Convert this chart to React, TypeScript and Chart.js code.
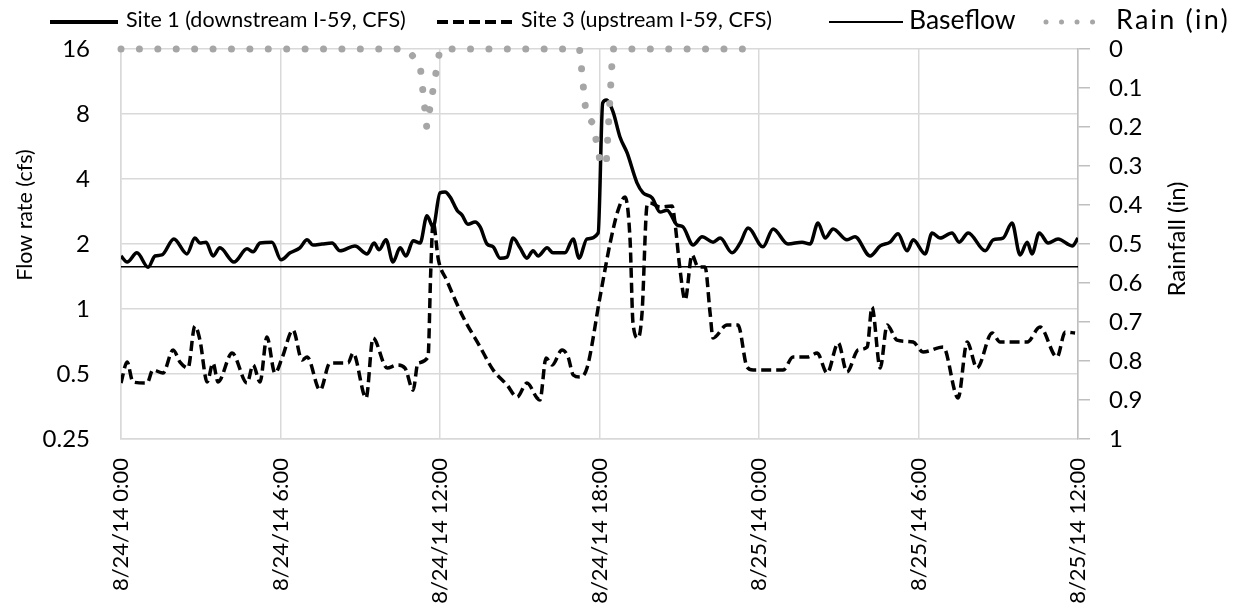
import React, { useEffect, useRef } from 'react';
import { Chart, registerables } from 'chart.js';

Chart.register(...registerables);

// ---------- data ----------
const X_TICK_LABELS = [
  '8/24/14 0:00',
  '8/24/14 6:00',
  '8/24/14 12:00',
  '8/24/14 18:00',
  '8/25/14 0:00',
  '8/25/14 6:00',
  '8/25/14 12:00',
];

const FLOW_TICKS = [0.25, 0.5, 1, 2, 4, 8, 16];
const FLOW_TICK_LABELS = ['0.25', '0.5', '1', '2', '4', '8', '16'];
const RAIN_TICK_LABELS = ['0', '0.1', '0.2', '0.3', '0.4', '0.5', '0.6', '0.7', '0.8', '0.9', '1'];

// hours since 8/24/14 0:00
const SITE1_TIME = [
  0.0, 0.23, 0.6, 1.02, 1.28, 1.54, 1.99, 2.48, 2.78, 2.97,
  3.2, 3.46, 3.72, 4.25, 4.74, 4.97, 5.23, 5.68, 6.02, 6.36,
  6.73, 7.0, 7.22, 7.56, 7.94, 8.24, 8.8, 9.26, 9.52, 9.71,
  9.97, 10.23, 10.5, 10.72, 10.99, 11.25, 11.51, 11.74, 12.0, 12.19,
  12.38, 12.64, 12.83, 13.05, 13.32, 13.51, 13.77, 14.0, 14.26, 14.52,
  14.75, 15.01, 15.27, 15.5, 15.69, 16.03, 16.25, 16.7, 17.01, 17.23,
  17.53, 17.95, 18.12, 18.26, 18.51, 18.77, 19.04, 19.41, 19.64, 19.98,
  20.28, 20.54, 20.92, 21.14, 21.52, 21.86, 22.27, 22.54, 22.99, 23.29,
  23.59, 24.15, 24.53, 25.09, 25.62, 25.92, 26.22, 26.49, 26.79, 27.31,
  27.61, 28.18, 28.56, 28.93, 29.23, 29.57, 29.8, 30.25, 30.51, 30.81,
  31.26, 31.53, 31.87, 32.51, 32.81, 33.18, 33.52, 33.82, 34.09, 34.27,
  34.54, 34.88, 35.25, 35.78, 36.0,
];
const SITE1_FLOW = [
  1.76, 1.65, 1.82, 1.56, 1.76, 1.78, 2.11, 1.8, 2.13, 2.02,
  2.04, 1.76, 1.92, 1.65, 1.9, 1.84, 2.02, 2.04, 1.69, 1.82,
  1.92, 2.09, 1.98, 2.0, 2.02, 1.86, 1.96, 1.8, 2.02, 1.88,
  2.09, 1.65, 1.92, 1.76, 2.07, 2.02, 2.7, 2.4, 3.45, 3.48,
  3.3, 2.87, 2.72, 2.47, 2.53, 2.4, 2.0, 1.94, 1.72, 1.74,
  2.13, 1.92, 1.72, 1.86, 1.76, 1.92, 1.82, 1.82, 2.11, 1.72,
  2.11, 2.25, 9.0, 9.28, 8.18, 6.26, 5.28, 3.84, 3.45, 3.27,
  2.81, 2.87, 2.45, 2.4, 1.98, 2.16, 2.04, 2.13, 1.82, 2.02,
  2.37, 1.94, 2.35, 2.0, 2.04, 2.0, 2.5, 2.13, 2.35, 2.09,
  2.16, 1.76, 1.96, 2.04, 2.23, 1.86, 2.09, 1.8, 2.25, 2.13,
  2.25, 2.04, 2.25, 1.86, 2.09, 2.13, 2.5, 1.78, 2.04, 1.8,
  2.25, 2.02, 2.11, 1.96, 2.13,
];

const SITE3_TIME = [
  0.0, 0.23, 0.45, 0.98, 1.2, 1.58, 1.96, 2.22, 2.52, 2.78,
  2.97, 3.24, 3.46, 3.65, 4.18, 4.74, 4.97, 5.23, 5.49, 5.79,
  6.06, 6.47, 6.81, 7.0, 7.49, 7.86, 8.54, 8.73, 9.22, 9.48,
  10.01, 10.38, 10.68, 10.99, 11.17, 11.55, 11.65, 11.74, 11.94, 12.25,
  12.87, 13.51, 14.0, 14.52, 14.9, 15.27, 15.65, 15.76, 15.99, 16.22,
  16.59, 16.82, 17.01, 17.27, 17.53, 18.02, 18.4, 18.7, 18.96, 19.15,
  19.26, 19.45, 19.6, 19.79, 19.9, 20.28, 20.73, 20.84, 21.03, 21.22,
  21.48, 21.71, 21.97, 22.16, 22.27, 22.8, 23.21, 23.55, 23.78, 24.91,
  25.28, 25.81, 26.19, 26.56, 26.98, 27.31, 27.73, 28.07, 28.25, 28.56,
  28.82, 29.19, 29.8, 30.17, 30.93, 31.49, 31.83, 32.2, 32.77, 33.07,
  34.09, 34.57, 35.21, 35.52, 35.89,
];
const SITE3_FLOW = [
  0.454, 0.568, 0.459, 0.454, 0.522, 0.505, 0.646, 0.568, 0.533, 0.834,
  0.718, 0.459, 0.562, 0.459, 0.625, 0.454, 0.55, 0.459, 0.742, 0.505,
  0.593, 0.799, 0.58, 0.599, 0.421, 0.562, 0.562, 0.625, 0.387, 0.734,
  0.533, 0.55, 0.533, 0.421, 0.562, 0.599, 1.47, 2.53, 1.69, 1.36,
  0.918, 0.667, 0.522, 0.445, 0.391, 0.454, 0.387, 0.379, 0.593, 0.55,
  0.646, 0.599, 0.495, 0.484, 0.533, 1.137, 2.02, 2.87, 3.3, 2.09,
  0.861, 0.734, 0.958, 3.03, 3.1, 2.97, 3.0, 2.5, 1.52, 1.1,
  1.78, 1.565, 1.565, 0.958, 0.734, 0.843, 0.843, 0.539, 0.522, 0.522,
  0.599, 0.599, 0.625, 0.505, 0.696, 0.511, 0.646, 0.667, 1.02, 0.533,
  0.843, 0.718, 0.703, 0.632, 0.667, 0.387, 0.703, 0.533, 0.774, 0.703,
  0.703, 0.825, 0.599, 0.782, 0.774,
];

const BASEFLOW_TIME = [0, 36];
const BASEFLOW_FLOW = [1.57, 1.57];

const RAIN_TIME = [0, 10.75, 11, 11.25, 11.5, 11.75, 12, 17.25, 17.5, 17.75, 18, 18.25, 18.5, 24];
const RAIN_IN = [0, 0, 0.02, 0.04, 0.2, 0.1, 0, 0, 0.17, 0.19, 0.28, 0.3, 0, 0];

// ---------- styling ----------
const FONT = 'Lato, "Noto Sans", sans-serif';
const GRID = '#d9d9d9';
const RAIN_COLOR = '#a6a6a6';

const pts = (xs: number[], ys: number[]) => xs.map((x, i) => ({ x, y: ys[i] }));

const decorPlugin = {
  id: 'decor',
  afterDraw(chart: any) {
    const ctx: any = chart.ctx;
    const ds = chart.data.datasets;
    ctx.save();
    const ly = 20;
    const items = [
      { x0: 50, x1: 118, tx: 126, text: ds[0].label, size: 21.5, ls: 0, lw: 4, dash: [] as number[], color: '#000', cap: 'butt' },
      { x0: 437, x1: 514, tx: 521, text: ds[1].label, size: 21.5, ls: 0, lw: 4, dash: [11, 5], color: '#000', cap: 'butt' },
      { x0: 829, x1: 903, tx: 909, text: ds[2].label, size: 26.5, ls: 0, lw: 2, dash: [] as number[], color: '#000', cap: 'butt' },
      { x0: 1046, x1: 1108, tx: 1116, text: ds[3].label, size: 27, ls: 2.2, lw: 5, dash: [0.01, 15.5], color: RAIN_COLOR, cap: 'round' },
    ];
    for (const it of items) {
      ctx.beginPath();
      ctx.setLineDash(it.dash);
      ctx.lineCap = it.cap;
      ctx.lineWidth = it.lw;
      ctx.strokeStyle = it.color;
      ctx.moveTo(it.x0, ly + 2);
      ctx.lineTo(it.x1, ly + 2);
      ctx.stroke();
      ctx.setLineDash([]);
      ctx.fillStyle = '#000';
      ctx.font = `${it.size}px ${FONT}`;
      ctx.letterSpacing = `${it.ls}px`;
      ctx.textAlign = 'left';
      ctx.textBaseline = 'middle';
      ctx.fillText(it.text, it.tx, ly);
    }
    ctx.letterSpacing = '0px';
    // axis titles
    ctx.fillStyle = '#000';
    ctx.textAlign = 'center';
    ctx.textBaseline = 'middle';
    ctx.save();
    ctx.translate(25, 215);
    ctx.rotate(-Math.PI / 2);
    ctx.font = `21.5px ${FONT}`;
    ctx.fillText('Flow rate (cfs)', 0, 0);
    ctx.restore();
    ctx.save();
    ctx.translate(1177, 239);
    ctx.rotate(-Math.PI / 2);
    ctx.font = `24px ${FONT}`;
    ctx.fillText('Rainfall (in)', 0, 0);
    ctx.restore();
    ctx.restore();
  },
};

export default function App() {
  const ref = useRef<HTMLCanvasElement | null>(null);
  useEffect(() => {
    const canvas = ref.current;
    if (!canvas) return;
    const chart = new Chart(canvas, {
      type: 'line',
      data: {
        datasets: [
          {
            label: 'Site 1 (downstream I-59, CFS)',
            data: pts(SITE1_TIME, SITE1_FLOW),
            borderColor: '#000',
            borderWidth: 3.5,
            pointRadius: 0,
            cubicInterpolationMode: 'monotone',
            yAxisID: 'y',
          },
          {
            label: 'Site 3 (upstream I-59, CFS)',
            data: pts(SITE3_TIME, SITE3_FLOW),
            borderColor: '#000',
            borderWidth: 3.5,
            borderDash: [10, 5],
            pointRadius: 0,
            cubicInterpolationMode: 'monotone',
            yAxisID: 'y',
          },
          {
            label: 'Baseflow',
            data: pts(BASEFLOW_TIME, BASEFLOW_FLOW),
            borderColor: '#000',
            borderWidth: 1.5,
            pointRadius: 0,
            yAxisID: 'y',
          },
          {
            label: 'Rain (in)',
            data: pts(RAIN_TIME, RAIN_IN),
            borderColor: RAIN_COLOR,
            borderWidth: 7,
            borderDash: [0.01, 18.4],
            borderCapStyle: 'round',
            pointRadius: 0,
            tension: 0,
            yAxisID: 'y1',
            order: -1,
            clip: 10,
          },
        ] as any,
      },
      options: {
        animation: false,
        responsive: false,
        devicePixelRatio: 1,
        layout: { padding: { top: 49, left: 0, right: 0, bottom: 0 } },
        plugins: { legend: { display: false }, tooltip: { enabled: false } },
        scales: {
          x: {
            type: 'linear',
            min: 0,
            max: 36,
            ticks: {
              stepSize: 6,
              maxRotation: 90,
              minRotation: 90,
              padding: 19,
              color: '#000',
              font: { family: FONT, size: 22 },
              callback: (_v: any, i: number) => X_TICK_LABELS[i],
            },
            grid: { color: GRID, lineWidth: 1.5, drawTicks: false },
            border: { color: GRID, width: 1.5 },
            afterFit: (s: any) => { s.height = 166; },
          },
          y: {
            type: 'logarithmic',
            position: 'left',
            min: 0.25,
            max: 16,
            afterBuildTicks: (s: any) => { s.ticks = FLOW_TICKS.map((v) => ({ value: v })); },
            ticks: {
              padding: 31,
              color: '#000',
              font: { family: FONT, size: 24 },
              callback: (v: any) => FLOW_TICK_LABELS[FLOW_TICKS.indexOf(Number(v))],
            },
            grid: { color: GRID, lineWidth: 1.5, drawTicks: false },
            border: { color: GRID, width: 1.5 },
            afterFit: (s: any) => { s.width = 121; },
          },
          y1: {
            type: 'linear',
            position: 'right',
            reverse: true,
            min: 0,
            max: 1,
            ticks: {
              stepSize: 0.1,
              padding: 19,
              color: '#000',
              font: { family: FONT, size: 24 },
              callback: (v: any) => RAIN_TICK_LABELS[Math.round(Number(v) * 10)],
            },
            grid: { drawOnChartArea: false, drawTicks: true, tickLength: 12, color: '#bfbfbf', lineWidth: 1.5 },
            border: { color: '#bfbfbf', width: 1.5 },
            afterFit: (s: any) => { s.width = 161; },
          },
        },
      } as any,
      plugins: [decorPlugin],
    });
    return () => chart.destroy();
  }, []);
  return (
    <div style={{ position: 'fixed', left: 0, top: 0, width: 1239, height: 605, background: '#fff' }}>
      <canvas ref={ref} width={1239} height={605} style={{ display: 'block', width: 1239, height: 605 }} />
    </div>
  );
}
